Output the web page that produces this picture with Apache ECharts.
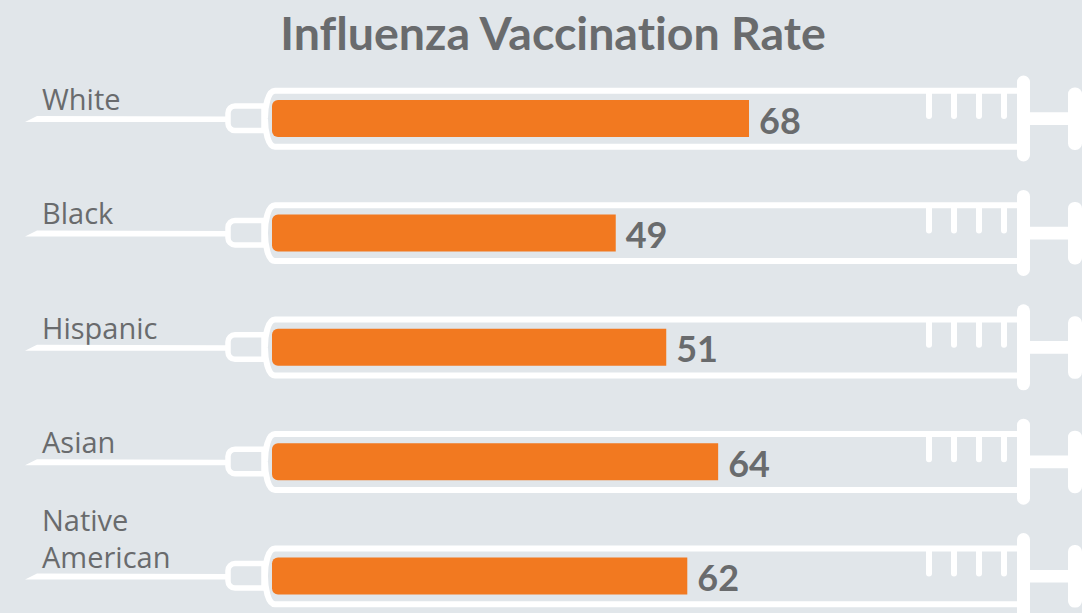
<!DOCTYPE html>
<html>
<head>
<meta charset="utf-8">
<title>Influenza Vaccination Rate</title>
<script src="https://cdn.jsdelivr.net/npm/echarts@6/dist/echarts.min.js"></script>
<style>
html, body { margin: 0; padding: 0; background: #e1e6ea; }
#chart { width: 1082px; height: 613px; }
/* Lato joins "ti" otherwise */
#chart text { font-variant-ligatures: none; }
</style>
</head>
<body>
<div id="chart"></div>
<script>
const categories = ['White', 'Black', 'Hispanic', 'Asian', 'Native\nAmerican']
// printed numbers
const rateLabels = [68, 49, 51, 64, 62]
// drawn bar lengths, the reference's bars do not all agree with their printed number
const barLengths = [68, 49, 56.2, 63.6, 59.2]

const textColor = '#696b6d'
const fontName = '"Open Sans", "Noto Sans", sans-serif'
const boldFontName = 'Lato, "Open Sans", sans-serif'

// one syringe, everything is offset from the bar's zero point on its row
function renderSyringe(params, api) {
	const origin = api.coord([0, api.value(1)])
	const x0 = origin[0]
	const cy = origin[1]
	const white = { fill: '#fff' }
	const line = { stroke: '#fff', lineWidth: 6, fill: null }
	const children = [
		// needle
		{ type: 'polygon', shape: { points: [[x0 - 247, cy + 3.5], [x0 - 235, cy - 2.5], [x0 - 44, cy - 2], [x0 - 44, cy + 3.5]] }, style: white },
		// hub
		{ type: 'rect', shape: { x: x0 - 44, y: cy - 12.5, width: 36, height: 24.5, r: [7, 0, 0, 7] }, style: { stroke: '#fff', lineWidth: 5.5, fill: null } },
		// barrel
		{ type: 'line', shape: { x1: x0 + 3, y1: cy - 27.7, x2: x0 + 745, y2: cy - 27.7 }, style: line },
		{ type: 'line', shape: { x1: x0 + 3, y1: cy + 28.2, x2: x0 + 745, y2: cy + 28.2 }, style: line },
		{ type: 'bezierCurve', shape: { x1: x0 + 3, y1: cy - 27.7, cpx1: x0 - 4, cpy1: cy - 27.7, cpx2: x0 - 7, cpy2: cy - 12, x2: x0 - 7, y2: cy }, style: line },
		{ type: 'bezierCurve', shape: { x1: x0 + 3, y1: cy + 28.2, cpx1: x0 - 4, cpy1: cy + 28.2, cpx2: x0 - 7, cpy2: cy + 12, x2: x0 - 7, y2: cy }, style: line },
		// flange, rod, plunger head
		{ type: 'rect', shape: { x: x0 + 745, y: cy - 43, width: 13, height: 86, r: 6.5 }, style: white },
		{ type: 'rect', shape: { x: x0 + 758, y: cy - 6.2, width: 40, height: 12.7 }, style: white },
		{ type: 'rect', shape: { x: x0 + 796, y: cy - 31, width: 14, height: 62.5, r: 6.5 }, style: white }
	]
	// measure ticks
	;[654, 679, 704, 729].forEach(dx => {
		children.push({ type: 'rect', shape: { x: x0 + dx, y: cy - 26, width: 6, height: 26.5, r: [0, 0, 3, 3] }, style: white })
	})
	return { type: 'group', children }
}

const myEchart = echarts.init(document.getElementById('chart'), null, { renderer: 'svg' })
myEchart.setOption({
	backgroundColor: '#e1e6ea',
	animation: false,
	title: {
		text: 'Influenza Vaccination Rate',
		left: 548,
		top: 3,
		textAlign: 'center',
		textStyle: { color: textColor, fontFamily: boldFontName, fontSize: 46.5, fontWeight: 'bold' }
	},
	grid: { left: 272, top: 61.3, width: 701.5, height: 572, outerBoundsMode: 'none' },
	xAxis: { type: 'value', min: 0, max: 100, show: false },
	yAxis: {
		type: 'category',
		inverse: true,
		data: categories,
		axisLine: { show: false },
		axisTick: { show: false },
		axisLabel: {
			margin: 230,
			align: 'left',
			verticalAlign: 'bottom',
			lineHeight: 37,
			padding: [0, 0, 1.5, 0],
			color: textColor,
			fontFamily: fontName,
			fontSize: 29
		}
	},
	series: [
		{
			type: 'custom',
			z: 1,
			renderItem: renderSyringe,
			encode: { x: 0, y: 1 },
			silent: true,
			data: categories.map((c, i) => [0, i])
		},
		{
			type: 'bar',
			z: 2,
			barWidth: 37,
			data: barLengths,
			itemStyle: { color: '#f27920', borderRadius: [6, 0, 0, 6] },
			label: {
				show: true,
				position: 'right',
				distance: 10,
				offset: [0, 1],
				color: textColor,
				fontFamily: boldFontName,
				fontSize: 36,
				fontWeight: 'bold',
				formatter: p => rateLabels[p.dataIndex]
			}
		}
	]
})
</script>
</body>
</html>
